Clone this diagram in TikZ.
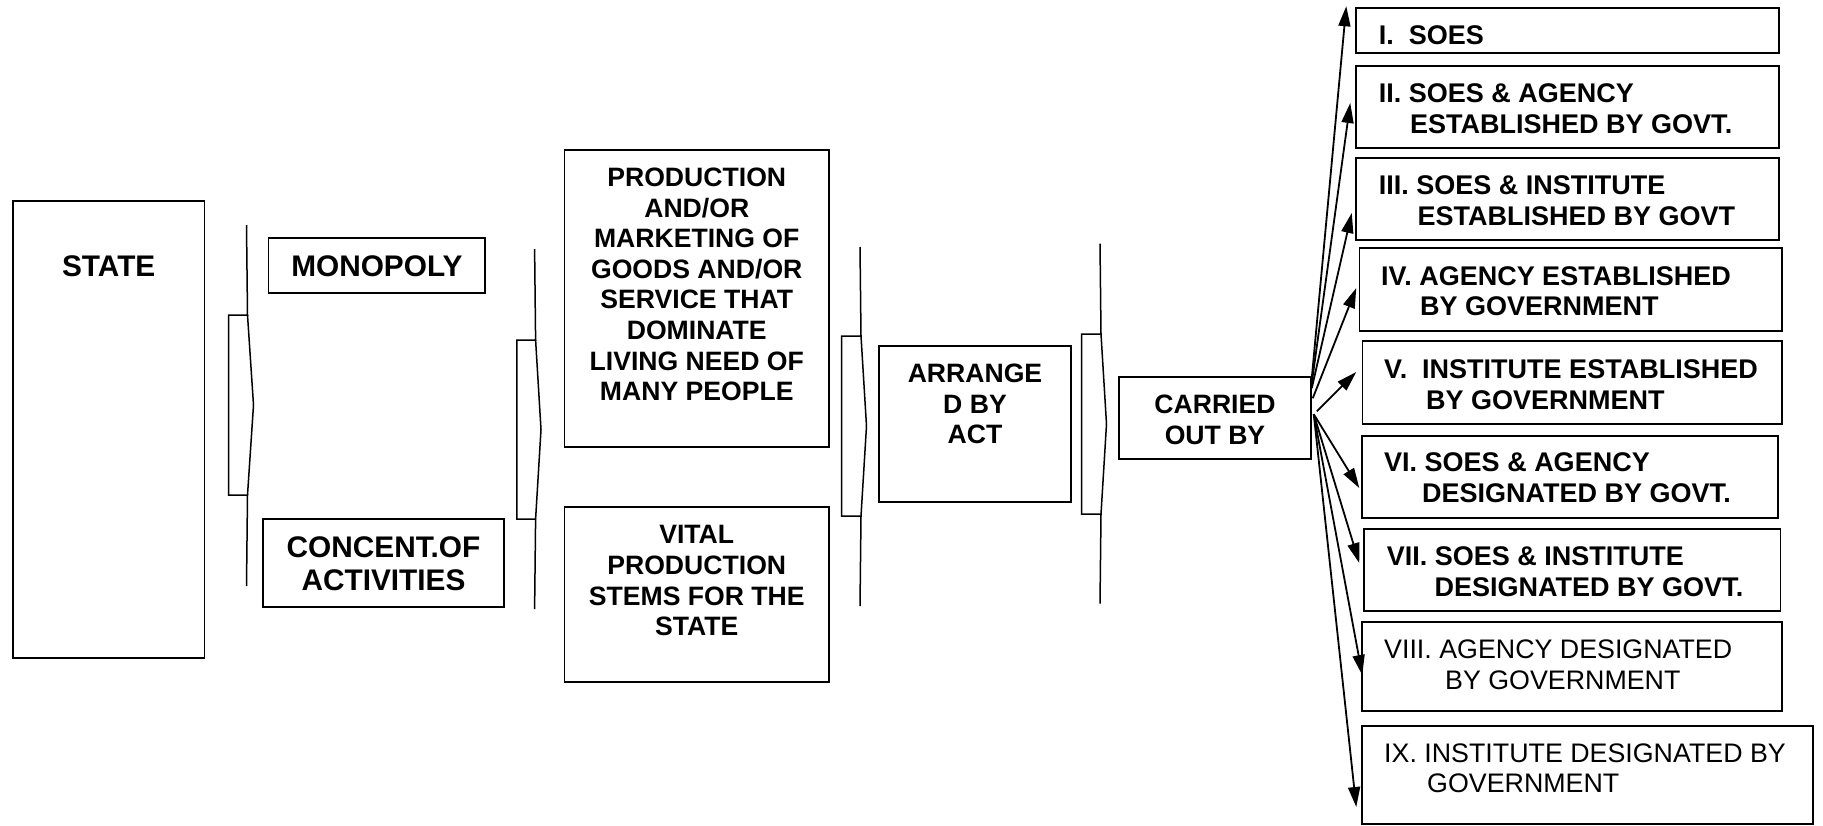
\documentclass[tikz,border=0pt]{standalone}
\usepackage{fontspec}
\setmainfont{Liberation Sans}
\usetikzlibrary{arrows.meta,calc}
\newcommand\myfbig{\fontsize{29.8}{33}\selectfont\bfseries}
\newcommand\myfmid{\fontsize{26.6}{30.6}\selectfont\bfseries}
\newcommand\myfrgt{\fontsize{27.0}{30.5}\selectfont\bfseries}
\newcommand\myfreg{\fontsize{26.8}{30.4}\selectfont}
\newcommand\mystA{\rule{0pt}{24pt}}
\newcommand\mystB{\rule{0pt}{22pt}}
\newcommand\mybrk[8]{%
  \draw[brk] (#1,#4) -- (#1+1,#6) -- (#3,#6) -- (#3,#7) -- (#1+1,#7) -- (#1,#5);
  \draw[brk] (#1+1,#6) -- (#2,#8) -- (#1+1,#7);}
\begin{document}
\begin{tikzpicture}[x=1pt,y=-1pt,
  box/.style={draw, line width=1.5pt, inner sep=0pt},
  ctext/.style={inner sep=0pt, align=center, anchor=north},
  ltext/.style={inner sep=0pt, align=left, anchor=north west},
  brk/.style={line width=1.5pt, line join=miter},
  conn/.style={line width=1.8pt, -{Triangle[length=20pt,width=12pt]}},
]
\useasboundingbox (0,0) rectangle (1823,825);
\fill[white] (0,0) rectangle (1823,825);

% left boxes
\node[box, minimum width=191.8pt, minimum height=457pt] (state) at (108.7,429.5) {};
\node[box, minimum width=216.4pt, minimum height=55pt] (mono) at (376.8,265.5) {};
\node[box, minimum width=241pt, minimum height=88pt] (conc) at (383.5,563) {};
\node[box, minimum width=264.5pt, minimum height=297pt] (prod) at (696.75,298.5) {};
\node[box, minimum width=264.5pt, minimum height=175pt] (vital) at (696.75,594.5) {};
\node[box, minimum width=192pt, minimum height=156pt] (arr) at (975,424) {};
\node[box, minimum width=192pt, minimum height=82pt] (carried) at (1215,418) {};

% right boxes
\node[box, minimum width=423pt, minimum height=45pt] (b1) at (1567.5,30.5) {};
\node[box, minimum width=423pt, minimum height=82pt] (b2) at (1567.5,107) {};
\node[box, minimum width=423pt, minimum height=82pt] (b3) at (1567.5,199) {};
\node[box, minimum width=422.4pt, minimum height=83pt] (b4) at (1570.8,289.5) {};
\node[box, minimum width=419.5pt, minimum height=83pt] (b5) at (1572.25,382.5) {};
\node[box, minimum width=416pt, minimum height=82pt] (b6) at (1570,477) {};
\node[box, minimum width=416.5pt, minimum height=82pt] (b7) at (1572.25,570) {};
\node[box, minimum width=420pt, minimum height=89pt] (b8) at (1572,666.5) {};
\node[box, minimum width=451pt, minimum height=98pt] (b9) at (1587.5,775) {};

% texts of left boxes
\node[ctext, font=\myfbig] (statet) at (108.7,252.2) {\mystA STATE};
\node[ctext, font=\myfbig] (monot) at (376.8,252.4) {\mystA MONOPOLY};
\node[ctext, font=\myfbig] (conct) at (383.5,533.1) {\mystA CONCENT.OF\\ACTIVITIES};
\node[ctext, font=\myfmid] (prodt) at (696.75,164.3) {\mystB PRODUCTION\\AND/OR\\MARKETING OF\\GOODS AND/OR\\SERVICE THAT\\DOMINATE\\LIVING NEED OF\\MANY PEOPLE};
\node[ctext, font=\myfmid] (vitalt) at (696.75,521.6) {\mystB VITAL\\PRODUCTION\\STEMS FOR THE\\STATE};
\node[ctext, font=\myfmid] (arrt) at (975,360.3) {\mystB ARRANGE\\D BY\\ACT};
\node[ctext, font=\myfmid] (carrt) at (1215,391.3) {\mystB CARRIED\\OUT BY};

% texts of right boxes
\node[ltext, font=\myfrgt] (t1) at (1378.6,22.7) {\mystB I.\ \ SOES};
\node[ltext, font=\myfrgt] (t2) at (1378.6,80.7) {\mystB II. SOES \& AGENCY\\\hspace*{31.4pt}ESTABLISHED BY GOVT.};
\node[ltext, font=\myfrgt] (t3) at (1378.6,172.7) {\mystB III. SOES \& INSTITUTE\\\hspace*{38.8pt}ESTABLISHED BY GOVT};
\node[ltext, font=\myfrgt] (t4) at (1381,263.2) {\mystB IV. AGENCY ESTABLISHED\\\hspace*{39pt}BY GOVERNMENT};
\node[ltext, font=\myfrgt] (t5) at (1384,356.4) {\mystB V.\ \ INSTITUTE ESTABLISHED\\\hspace*{42pt}BY GOVERNMENT};
\node[ltext, font=\myfrgt] (t6) at (1384,449.6) {\mystB VI. SOES \& AGENCY\\\hspace*{38pt}DESIGNATED BY GOVT.};
\node[ltext, font=\myfrgt] (t7) at (1386.6,543.4) {\mystB VII. SOES \& INSTITUTE\\\hspace*{47.9pt}DESIGNATED BY GOVT.};
\node[ltext, font=\myfreg] (t8) at (1384,636.4) {\mystB VIII. AGENCY DESIGNATED\\\hspace*{61pt}BY GOVERNMENT};
\node[ltext, font=\myfreg] (t9) at (1384,739.9) {\mystB IX. INSTITUTE DESIGNATED BY\\\hspace*{43pt}GOVERNMENT};

% bracket arrows
\mybrk{246.5}{253.5}{228.6}{225}{586}{315}{495}{405}
\mybrk{534.6}{541}{516.8}{249}{609}{340}{519}{429.5}
\mybrk{860}{866.5}{841.6}{247}{606}{336}{516}{426}
\mybrk{1100}{1106.5}{1081.6}{243.6}{603.6}{334}{514}{424}

% connectors
\draw[conn] ($(carried.north east)+(0,2)$) -- ($(b1.north west)+(-9,-1)$);
\draw[conn] ($(carried.north east)+(0,7)$) -- ($(b2.west)+(-5,-4)$);
\draw[conn] ($(carried.north east)+(0,12)$) -- ($(b3.west)+(-3.5,14)$);
\draw[conn] ($(carried.north east)+(1,22)$) -- ($(b4.west)+(-2.6,-1.5)$);
\draw[conn] ($(carried.north east)+(5,35)$) -- ($(b5.west)+(-5.5,-10.5)$);
\draw[conn] ($(carried.north east)+(2,38)$) -- ($(b6.west)+(-2,11)$);
\draw[conn] ($(carried.north east)+(2,38)$) -- ($(b7.west)+(-4,-7)$);
\draw[conn] ($(carried.north east)+(2,38)$) -- ($(b8.west)+(1,8.5)$);
\draw[conn] ($(carried.north east)+(2,38)$) -- ($(b9.west)+(-5,32)$);
\end{tikzpicture}
\end{document}
